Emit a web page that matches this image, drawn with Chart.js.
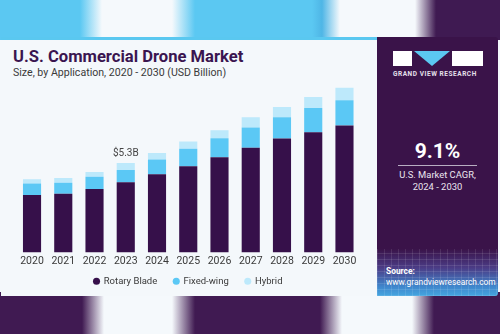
<!DOCTYPE html>
<html>
<head>
<meta charset="utf-8">
<script src="https://cdn.jsdelivr.net/npm/chart.js@4.4.1/dist/chart.umd.min.js"></script>
<style>
  html, body { margin: 0; padding: 0; }
  body { width: 500px; height: 334px; position: relative; overflow: hidden; background: #f4f8fb;
         font-family: Roboto, "Liberation Sans", sans-serif; }
  #bg-top { position: absolute; left: 0; top: 0; width: 500px; height: 40px;
    background: linear-gradient(90deg, #5bc8f2 0, #5bc8f2 80px, #f5f9fc 102px, #f5f9fc 172px, #5bc8f2 195px,
                #5bc8f2 312px, #4fb6e6 322px, #f5f9fc 340px, #f5f9fc 415px, #3f1a52 436px, #3f1a52 500px); }
  #bg-bot { position: absolute; left: 0; top: 292px; width: 500px; height: 42px;
    background: linear-gradient(90deg, #401a52 0, #401a52 82px, #f5f9fc 104px, #f5f9fc 172px, #401a52 195px,
                #401a52 320px, #f5f9fc 342px, #f5f9fc 412px, #401a52 434px, #401a52 500px); }
  #card { position: absolute; left: 1px; top: 37px; width: 376px; height: 259px; background: #f4f8fb;
          border-top: 3px solid #5ac8f0; box-sizing: border-box; }
  #title { position: absolute; left: 13px; top: 46.5px; font-size: 16.6px; font-weight: 700; color: #3a1550;
           white-space: nowrap; }
  #subtitle { position: absolute; left: 13px; top: 66px; font-size: 10.6px; color: #3a3a3a; white-space: nowrap; }
  #wrap { position: absolute; left: 1px; top: 81px; width: 376px; height: 226px; }
  #panel { position: absolute; left: 377px; top: 37px; width: 121px; height: 259px; background: #3a1349;
           border-radius: 0 3px 3px 0; overflow: hidden; }
  #panel-foot { position: absolute; left: 0; top: 212px; width: 121px; height: 47px;
    background:
      repeating-linear-gradient(90deg, rgba(255,255,255,0.10) 0 1px, transparent 1px 7px),
      repeating-linear-gradient(0deg, rgba(255,255,255,0.10) 0 1px, transparent 1px 6px),
      linear-gradient(180deg, #3a1349 0%, #4b3c86 40%, #3f86cc 80%, #45a6e0 100%); }
  .logo-w { position: absolute; top: 14px; height: 15px; background: #fff; }
  #logo-tri { position: absolute; left: 37px; top: 14px; width: 0; height: 0;
              border-left: 18px solid transparent; border-right: 18px solid transparent; border-top: 15px solid #5bc8f2; }
  #gvr { position: absolute; left: 16px; top: 33px; font-size: 6.5px; font-weight: 700; color: #e6e0ec;
         letter-spacing: 0.55px; white-space: nowrap; }
  #cagr { position: absolute; left: 0; width: 121px; top: 102px; text-align: center; font-size: 21px; font-weight: 700;
          color: #fff; }
  #rule { position: absolute; left: 21px; top: 128px; width: 79px; height: 1px; background: #b8aec2; }
  #cagr-txt { position: absolute; left: 0; width: 121px; top: 132px; text-align: center; font-size: 9.4px;
              line-height: 11.5px; color: #ece6f0; }
  #src { position: absolute; left: 9px; top: 229px; font-size: 8.4px; line-height: 10.5px; color: #fff; white-space: nowrap; }
</style>
</head>
<body>
<div id="bg-top"></div>
<div id="bg-bot"></div>
<div id="card"></div>
<div id="title">U.S. Commercial Drone Market</div>
<div id="subtitle">Size, by Application, 2020 - 2030 (USD Billion)</div>
<div id="wrap"><canvas id="chart"></canvas></div>
<div id="panel">
  <div class="logo-w" style="left:16px;width:19px"></div>
  <div id="logo-tri"></div>
  <div class="logo-w" style="left:75px;width:31px"></div>
  <div id="gvr">GRAND VIEW RESEARCH</div>
  <div id="cagr">9.1%</div>
  <div id="rule"></div>
  <div id="cagr-txt">U.S. Market CAGR,<br>2024 - 2030</div>
  <div id="panel-foot"></div>
  <div id="src"><b>Source:</b><br>www.grandviewresearch.com</div>
</div>
<script>
"use strict";

const YEARS = ["2020", "2021", "2022", "2023", "2024", "2025", "2026", "2027", "2028", "2029", "2030"];
const ROTARY = [3.41, 3.49, 3.76, 4.17, 4.64, 5.11, 5.65, 6.22, 6.77, 7.13, 7.54];
const FIXED  = [0.68, 0.64, 0.73, 0.73, 0.88, 1.05, 1.13, 1.19, 1.26, 1.44, 1.50];
const HYBRID = [0.25, 0.29, 0.29, 0.41, 0.39, 0.43, 0.47, 0.62, 0.61, 0.66, 0.74];
const CALLOUTS = { 3: "$5.3B" };    // bar index -> label above the stack

const COLORS = { rotary: "#36104a", fixed: "#5bc8f5", hybrid: "#bde9fb" };
const FONT = "Roboto, 'Liberation Sans', sans-serif";

// text above selected stacks, placed from the y scale
const callout = {
  id: "callout",
  afterDatasetsDraw(chart) {
    const { ctx, scales: { x, y } } = chart;
    ctx.save();
    ctx.font = "10px " + FONT;
    ctx.fillStyle = "#444";
    ctx.textAlign = "center";
    ctx.textBaseline = "alphabetic";
    Object.keys(CALLOUTS).forEach((i) => {
      const total = ROTARY[i] + FIXED[i] + HYBRID[i];
      ctx.fillText(CALLOUTS[i], x.getPixelForValue(+i), y.getPixelForValue(total) - 6.5);
    });
    ctx.restore();
  },
};

// the legend sits closer to the year labels than Chart.js would put it
const legendNudge = {
  id: "legendNudge",
  afterLayout(chart) {
    const lg = chart.legend;
    if (lg) { lg.top -= 11; lg.bottom -= 11; }
  },
};

const bar = (label, data, color) => ({
  label, data, backgroundColor: color, borderWidth: 0,
  barPercentage: 0.58, categoryPercentage: 1,
});

new Chart(document.getElementById("chart"), {
  type: "bar",
  data: {
    labels: YEARS,
    datasets: [
      bar("Rotary Blade", ROTARY, COLORS.rotary),
      bar("Fixed-wing", FIXED, COLORS.fixed),
      bar("Hybrid", HYBRID, COLORS.hybrid),
    ],
  },
  options: {
    responsive: true, maintainAspectRatio: false, animation: false,
    layout: { padding: { left: 15.4, right: 16.9, top: 3, bottom: 0 } },
    plugins: {
      legend: {
        position: "bottom",
        labels: { usePointStyle: true, pointStyle: "circle", boxWidth: 5, boxHeight: 5, padding: 16.5,
                  color: "#3a3a3a", font: { size: 9.5, family: FONT } },
      },
      tooltip: { enabled: false },
    },
    scales: {
      x: {
        stacked: true,
        grid: { display: false, drawTicks: false }, border: { display: false },
        ticks: { padding: 3, color: "#3a3a3a", font: { size: 10.5, family: FONT } },
      },
      y: { stacked: true, display: false, min: 0, max: 10 },
    },
  },
  plugins: [callout, legendNudge],
});
</script>
</body>
</html>
